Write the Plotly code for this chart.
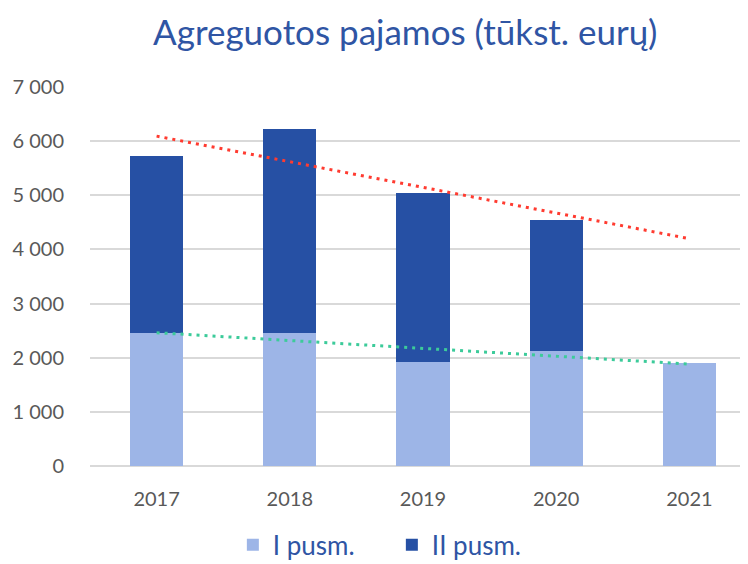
import numpy as np
import plotly.graph_objects as go

years = ["2017", "2018", "2019", "2020", "2021"]
first_half = [2457, 2457, 1921, 2130, 1897]
second_half = [3269, 3762, 3127, 2408, None]
y_ticks = [0, 1000, 2000, 3000, 4000, 5000, 6000, 7000]
y_tick_text = ["0", "1 000", "2 000", "3 000", "4 000", "5 000", "6 000", "7 000"]

# linear trendlines (as in the spreadsheet): total of the years with both halves, forecast one period; first half over all years
idx_tot = [i for i, v in enumerate(second_half) if v is not None]
totals = [first_half[i] + second_half[i] for i in idx_tot]
p_tot = np.polyfit(idx_tot, totals, 1)
p_first = np.polyfit(range(len(years)), first_half, 1)
trend_x = [years[0], years[-1]]
trend_tot = [float(np.polyval(p_tot, 0)), float(np.polyval(p_tot, len(years) - 1))]
trend_first = [float(np.polyval(p_first, 0)), float(np.polyval(p_first, len(years) - 1))]

fig = go.Figure()
fig.add_bar(x=years, y=first_half, name="I pusm.", marker=dict(color="#9DB5E7", line=dict(width=0)), width=0.4)
fig.add_bar(x=years, y=second_half, name="II pusm.", marker=dict(color="#2650A4", line=dict(width=0)), width=0.4)
fig.add_scatter(x=trend_x, y=trend_tot, mode="lines", showlegend=False,
                line=dict(color="#FF3B30", width=3, dash="3px,5px"), hoverinfo="skip")
fig.add_scatter(x=trend_x, y=trend_first, mode="lines", showlegend=False,
                line=dict(color="#3CCB9A", width=3, dash="3px,5px"), hoverinfo="skip")

fig.update_layout(
    width=748, height=564,
    barmode="stack",
    paper_bgcolor="white", plot_bgcolor="white",
    margin=dict(l=82, r=0, t=79, b=106, autoexpand=False),
    title=dict(text="Agreguotos pajamos (tūkst. eurų)", x=0.531, xanchor="center", y=0.956, yanchor="middle",
               font=dict(family="Lato", size=35, color="#2F55A4")),
    font=dict(family="Lato", color="#595959"),
    legend=dict(orientation="h", x=0.2145, xanchor="left", y=-0.208, yanchor="middle",
                font=dict(size=26, color="#2F55A4"), itemwidth=30, traceorder="normal",
                entrywidth=114, entrywidthmode="pixels"),
    xaxis=dict(type="category", range=[-0.5, 4.5], showgrid=False, showline=False,
               tickfont=dict(size=20, color="#595959"), ticks="", ticklabelstandoff=19),
    yaxis=dict(range=[0, 7000], tickvals=y_ticks, ticktext=y_tick_text, showgrid=True,
               gridcolor="#D9D9D9", gridwidth=1.5, zeroline=True, zerolinecolor="#D9D9D9", zerolinewidth=1.5,
               tickfont=dict(size=20, color="#595959"), ticks="", ticklabelstandoff=25),
)

fig.write_html("out.html")
